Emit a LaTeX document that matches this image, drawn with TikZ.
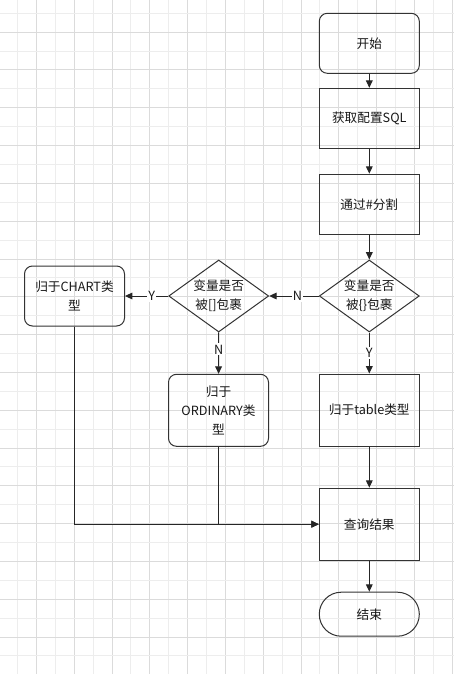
\documentclass[tikz,border=0pt]{standalone}
\usepackage{fontspec}
\setmainfont{Noto Sans CJK SC}
\usetikzlibrary{shapes.geometric,arrows.meta}

\begin{document}
\begin{tikzpicture}[x=0.75pt,y=-0.75pt,
  every node/.style={font=\fontsize{9.5}{14.5}\selectfont,text=black!90,align=center},
  box/.style={draw=black!80,line width=0.75pt,minimum width=75pt,minimum height=45pt,inner sep=2pt},
  tallbox/.style={box,minimum height=54pt},
  softbox/.style={box,rounded corners=6pt},
  decision/.style={draw=black!80,line width=0.75pt,diamond,aspect=1.39,
    minimum width=75pt,minimum height=54pt,inner sep=0pt},
  terminal/.style={box,minimum height=33pt,rounded corners=16.4pt},
  flow/.style={draw=black!85,line width=0.75pt,-{Triangle[length=5.5pt,width=5pt]}},
  yn/.style={fill=white,inner sep=1pt},
  minorline/.style={draw=black!7,line width=0.75pt},
  majorline/.style={draw=black!14,line width=0.75pt}]
\useasboundingbox (0,0) rectangle (454,674);
\fill[white] (0,0) rectangle (454,674);
% background grid
\foreach \k in {0,2,...,22} \draw[minorline] ({17.5+18.9*\k},0) -- ++(0,674);
\foreach \k in {1,3,...,23} \draw[majorline] ({17.5+18.9*\k},0) -- ++(0,674);
\foreach \k in {0,2,...,34} \draw[minorline] (0,{13.3+18.9*\k}) -- ++(454,0);
\foreach \k in {1,3,...,33} \draw[majorline] (0,{13.3+18.9*\k}) -- ++(454,0);

\node[softbox] (start) at (369.3,43.3) {开始};
\node[box] (sql) at (369.3,118.3) {获取配置SQL};
\node[box] (split) at (369.3,204.2) {通过\#分割};
\node[decision] (isbrace) at (369.3,296) {变量是否\\被\{\}包裹};
\node[decision] (isbracket) at (218.7,296) {变量是否\\被[]包裹};
\node[softbox] (chart) at (74.5,296) {归于CHART类\\型};
\node[softbox,minimum height=54pt] (ordinary) at (218.5,410.3) {归于\\ORDINARY类\\型};
\node[tallbox] (table) at (369.3,410) {归于table类型};
\node[tallbox] (query) at (369.3,524.2) {查询结果};
\node[terminal] (finish) at (369.3,614.2) {结束};

\draw[flow] (start) -- (sql);
\draw[flow] (sql) -- (split);
\draw[flow] (split) -- (isbrace);
\draw[flow] (isbrace) -- node[yn,pos=0.43] {N} (isbracket);
\draw[flow] (isbracket) -- node[yn,pos=0.38] {Y} (chart);
\draw[flow] (isbracket) -- node[yn,pos=0.41] {N} (ordinary);
\draw[flow] (isbrace) -- node[yn] {Y} (table);
\draw[flow] (table) -- (query);
\draw[flow] (chart) |- (query);
\draw[flow] (ordinary) |- (query);
\draw[flow] (query) -- (finish);
\end{tikzpicture}
\end{document}
